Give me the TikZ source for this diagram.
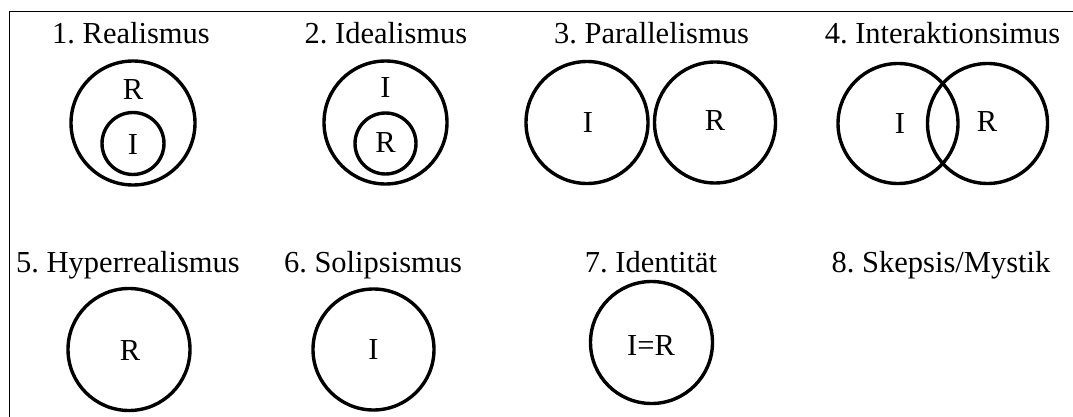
\documentclass[tikz,border=0pt]{standalone}
\usepackage{fontspec}
\setmainfont{Liberation Serif}
\frenchspacing
\begin{document}
\begin{tikzpicture}[x=1pt,y=-1pt,
  ttl/.style={anchor=base,inner sep=0pt,font=\fontsize{30.5}{36}\selectfont\frenchspacing},
  lbl/.style={anchor=base,inner sep=0pt,font=\fontsize{30.5}{36}\selectfont},
  ring/.style={draw,circle,line width=3.4pt,inner sep=0pt,minimum size=#1}]
\useasboundingbox (0,0) rectangle (1073,417);
\draw[line width=1pt] (9.5,417) -- (9.5,12) -- (1073,12);
% titles
\node[ttl] (t1) at (131,44) {1. Realismus};
\node[ttl] (t2) at (386,44) {2. Idealismus};
\node[ttl] (t3) at (651.5,44) {3. Parallelismus};
\node[ttl] (t4) at (942.5,44) {4. Interaktionsimus};
\node[ttl] (t5) at (128,272.5) {5. Hyperrealismus};
\node[ttl] (t6) at (373,272.5) {6. Solipsismus};
\node[ttl] (t7) at (651,272.5) {7. Identität};
\node[ttl] (t8) at (941,272.5) {8. Skepsis/Mystik};
% 1
\node[ring=124pt] (c1o) at (133,123) {};
\node[ring=62pt] (c1i) at (133,143.5) {};
\node[lbl] (l1r) at (133,100) {R};
\node[lbl] (l1i) at (133,154) {I};
% 2
\node[ring=123pt] (c2o) at (385.5,122.5) {};
\node[ring=61pt] (c2i) at (385.5,143.5) {};
\node[lbl] (l2i) at (385.5,98) {I};
\node[lbl] (l2r) at (385.5,153) {R};
% 3
\node[ring=122pt] (c3i) at (587,122.5) {};
\node[ring=121pt] (c3r) at (715,122.5) {};
\node[lbl] (l3i) at (588,132) {I};
\node[lbl] (l3r) at (715,130.5) {R};
% 4
\node[ring=120pt] (c4i) at (898,123.5) {};
\node[ring=120pt] (c4r) at (987.5,123.5) {};
\node[lbl] (l4i) at (900,133) {I};
\node[lbl] (l4r) at (987,131.5) {R};
% 5
\node[ring=122pt] (c5) at (129,349.5) {};
\node[lbl] (l5) at (130,360) {R};
% 6
\node[ring=121pt] (c6) at (373.5,349.5) {};
\node[lbl] (l6) at (373.5,359) {I};
% 7
\node[ring=122pt] (c7) at (651.5,342.5) {};
\node[lbl] (l7) at (651,355) {I=R};
\end{tikzpicture}
\end{document}
